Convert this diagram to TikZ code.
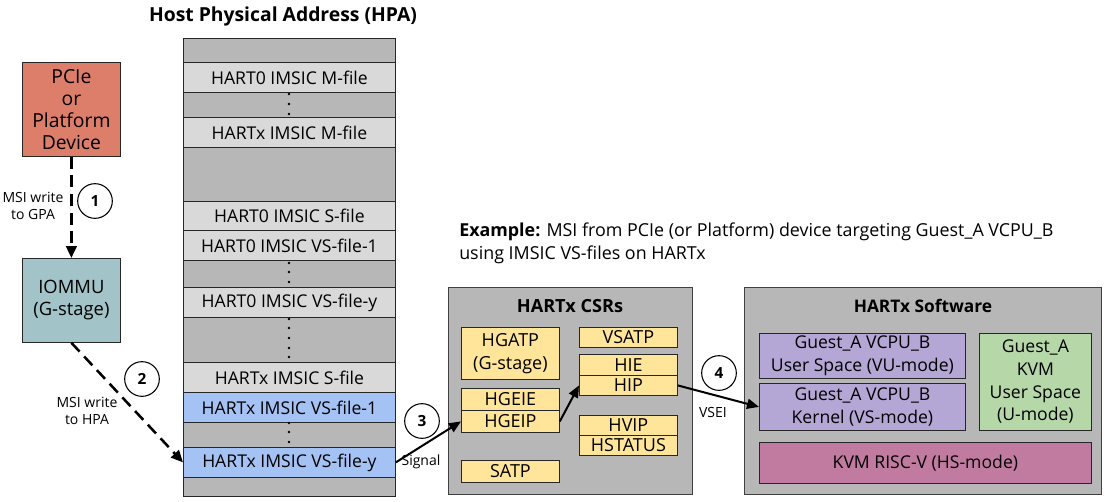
\documentclass[tikz,border=0pt]{standalone}
\usepackage{fontspec}
\setmainfont{Open Sans}
\usetikzlibrary{arrows.meta}
\definecolor{cellgray}{HTML}{B7B7B7}
\definecolor{celllight}{HTML}{D9D9D9}
\definecolor{cellblue}{HTML}{A4C2F4}
\definecolor{devred}{HTML}{DD7E6B}
\definecolor{iommucyan}{HTML}{A2C4C9}
\definecolor{csryellow}{HTML}{FFE599}
\definecolor{guestpurple}{HTML}{B4A7D6}
\definecolor{kvmgreen}{HTML}{B6D7A8}
\definecolor{hsmagenta}{HTML}{C27BA0}
\newcommand{\fsz}[2]{\fontsize{#1}{#2}\selectfont}
\tikzset{
  box/.style 2 args={anchor=north west, minimum width=#1*0.75pt, minimum height=#2*0.75pt},
  cell/.style={draw=black!85, line width=0.6pt, inner sep=0pt, align=center, font=\fsz{13.2}{17}},
  filecell/.style={cell, fill=celllight},
  vscell/.style={cell, fill=cellblue},
  csrcell/.style={cell, fill=csryellow, font=\fsz{13.5}{17}},
  container/.style={draw=black!75, line width=1pt, fill=cellgray, inner sep=0pt},
  numcirc/.style={circle, draw, line width=0.8pt, fill=white, minimum size=26pt, inner sep=0pt, font=\bfseries\fsz{11.5}{13}},
  smalllabel/.style={align=center, font=\fsz{10.5}{12.5}},
  dasharrow/.style={line width=1.9pt, dash pattern=on 9pt off 5pt, -{Triangle[length=9pt,width=8pt]}},
  solidarrow/.style={line width=1.5pt, -{Triangle[length=9pt,width=7.5pt]}}
}
\begin{document}
\begin{tikzpicture}[x=0.75pt,y=-0.75pt]
\useasboundingbox (0,0) rectangle (1111,501);

% device and iommu
\node[cell, fill=devred, box={98}{94}, font=\fsz{14.5}{16.5}] (pcie) at (22,62) {PCIe\\or\\Platform\\Device};
\node[cell, fill=iommucyan, box={98}{84}, font=\fsz{13.8}{16.5}] (iommu) at (22,258) {IOMMU\\(G-stage)};

% HPA column
\node[font=\bfseries\fsz{14.5}{17}] (hpatitle) at (283,16) {Host Physical Address (HPA)};
\node[cell, fill=cellgray, box={212}{458}] (hpa) at (183,38) {};
\node[filecell, box={212}{30}] (m0) at (183,62) {HART0 IMSIC M-file};
\node[filecell, box={212}{30}] (mx) at (183,117) {HARTx IMSIC M-file};
\node[filecell, box={212}{29}] (s0) at (183,201) {HART0 IMSIC S-file};
\node[filecell, box={212}{30}] (vs0a) at (183,230) {HART0 IMSIC VS-file-1};
\node[filecell, box={212}{30}] (vs0y) at (183,287) {HART0 IMSIC VS-file-y};
\node[filecell, box={212}{30}] (sx) at (183,362) {HARTx IMSIC S-file};
\node[vscell, box={212}{30}] (vsxa) at (183,392) {HARTx IMSIC VS-file-1};
\node[vscell, box={212}{30}] (vsxy) at (183,447) {HARTx IMSIC VS-file-y};
\foreach \y in {94,104,114,263,272,282,319,328,338,348,357,423,432,442}
  \fill (289,\y) circle (1.1pt);

% example text
\node[anchor=north west, align=left, font=\fsz{13.4}{17}, inner sep=0pt] (example) at (459,223)
  {\textbf{Example:} MSI from PCIe (or Platform) device targeting Guest\_A VCPU\_B\\using IMSIC VS-files on HARTx};

% HARTx CSRs
\node[container, box={244}{207}] (csrs) at (448,287) {};
\node[font=\bfseries\fsz{13.6}{15}] (csrtitle) at (570,306) {HARTx CSRs};
\node[csrcell, box={98}{52}] (hgatp) at (461,327) {HGATP\\(G-stage)};
\node[csrcell, box={98}{22}] (hgeie) at (461,388) {HGEIE};
\node[csrcell, box={98}{22}] (hgeip) at (461,410) {HGEIP};
\node[csrcell, box={98}{22}] (satp) at (461,460) {SATP};
\node[csrcell, box={98}{20}] (vsatp) at (579,327) {VSATP};
\node[csrcell, box={98}{21}] (hie) at (579,354) {HIE};
\node[csrcell, box={98}{20}] (hip) at (579,375) {HIP};
\node[csrcell, box={98}{20}] (hvip) at (579,415) {HVIP};
\node[csrcell, box={98}{20}] (hstatus) at (579,435) {HSTATUS};

% HARTx software
\node[container, box={357}{207}] (soft) at (744,287) {};
\node[font=\bfseries\fsz{13}{15}] (softtitle) at (923,306) {HARTx Software};
\node[cell, fill=guestpurple, box={206}{45}] (guestuser) at (759,333) {Guest\_A VCPU\_B\\User Space (VU-mode)};
\node[cell, fill=guestpurple, box={206}{47}] (kernel) at (759,383) {Guest\_A VCPU\_B\\Kernel (VS-mode)};
\node[cell, fill=kvmgreen, box={112}{97}] (kvmuser) at (979,333) {Guest\_A\\KVM\\User Space\\(U-mode)};
\node[cell, fill=hsmagenta, box={332}{41}] (kvmhs) at (759,442) {KVM RISC-V (HS-mode)};

% connectors
\draw[dasharrow] (pcie) -- (iommu);
\draw[dasharrow] (iommu.south) -- (vsxy.west);
\draw[solidarrow] (vsxy.east) -- (hgeip.west);
\draw[solidarrow] (hgeip.east) -- (hip.west);
\draw[solidarrow] (hip.east) -- (kernel.west);

% step markers and labels
\node[numcirc] (n1) at (95,201) {1};
\node[numcirc] (n2) at (142,379) {2};
\node[numcirc] (n3) at (422,421) {3};
\node[numcirc] (n4) at (719,373) {4};
\node[smalllabel] (lbl1) at (33,206) {MSI write\\to GPA};
\node[smalllabel] (lbl2) at (87,411) {MSI write\\to HPA};
\node[smalllabel] (lbl3) at (421,462) {Signal};
\node[smalllabel] (lbl4) at (713,412) {VSEI};
\end{tikzpicture}
\end{document}
